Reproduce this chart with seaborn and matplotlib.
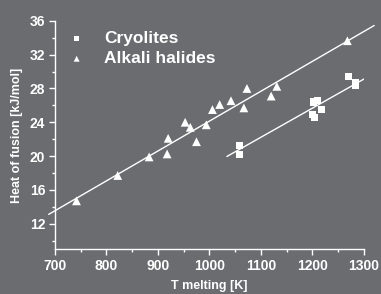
import matplotlib
matplotlib.use("Agg")
import matplotlib.pyplot as plt
import seaborn as sns
import pandas as pd

# ---- data ----
cryo_T = [1058, 1058, 1200, 1202, 1204, 1210, 1218, 1271, 1283, 1283]
cryo_H = [21.2, 20.2, 24.9, 26.4, 24.6, 26.6, 25.5, 29.45, 28.7, 28.3]

alk_T = [742, 822, 883, 918, 920, 953, 963, 975, 994, 1006, 1020, 1042, 1067, 1073, 1120, 1131, 1268]
alk_H = [14.7, 17.7, 19.9, 20.25, 22.1, 24.0, 23.4, 21.7, 23.7, 25.5, 26.1, 26.55, 25.7, 28.0, 27.1, 28.25, 33.65]

alk_fit_T = [688, 1320]
alk_fit_H = [13.1, 35.45]
cryo_fit_T = [1034, 1307]
cryo_fit_H = [19.95, 29.35]

x_ticks = [700, 800, 900, 1000, 1100, 1200, 1300]
y_ticks = [12, 16, 20, 24, 28, 32, 36]

bg = "#6b6c70"
fg = "white"

sns.set_theme(style="ticks")
plt.rcParams["font.family"] = ["Liberation Sans", "DejaVu Sans"]

fig = plt.figure(figsize=(3.81, 2.94), dpi=100, facecolor=bg)
ax = fig.add_axes([0.144, 0.153, 0.811, 0.776])
ax.set_facecolor(bg)

df_c = pd.DataFrame({"T": cryo_T, "H": cryo_H})
df_a = pd.DataFrame({"T": alk_T, "H": alk_H})

sns.lineplot(x=alk_fit_T, y=alk_fit_H, ax=ax, color=fg, lw=1.0, clip_on=False)
sns.lineplot(x=cryo_fit_T, y=cryo_fit_H, ax=ax, color=fg, lw=1.0)
sns.scatterplot(data=df_c, x="T", y="H", ax=ax, marker="s", s=26, color=fg,
                edgecolor="none", zorder=3)
sns.scatterplot(data=df_a, x="T", y="H", ax=ax, marker="^", s=40, color=fg,
                edgecolor="none", zorder=3)

ax.set_xlim(700, 1300)
ax.set_ylim(9, 36)
ax.set_xticks(x_ticks)
ax.set_yticks(y_ticks)
ax.set_xticks([750, 850, 950, 1050, 1150, 1250], minor=True)
ax.set_yticks([10, 14, 18, 22, 26, 30, 34], minor=True)

for s in ["top", "right"]:
    ax.spines[s].set_visible(False)
for s in ["left", "bottom"]:
    ax.spines[s].set_color(fg)
    ax.spines[s].set_linewidth(1.0)

ax.tick_params(which="major", direction="out", length=4, width=1, colors=fg,
               labelsize=10, pad=3)
ax.tick_params(which="minor", direction="out", length=2.5, width=1, colors=fg)
for lab in ax.get_xticklabels() + ax.get_yticklabels():
    lab.set_fontweight("bold")
    lab.set_color(fg)

ax.set_xlabel("T melting [K]", color=fg, fontsize=9, fontweight="bold", labelpad=5)
ax.set_ylabel("Heat of fusion [kJ/mol]", color=fg, fontsize=9, fontweight="bold",
              labelpad=5)

# legend
h_sq = ax.scatter([], [], marker="s", s=14, color=fg, edgecolor="none")
h_tr = ax.scatter([], [], marker="^", s=18, color=fg, edgecolor="none")
leg = ax.legend([h_sq, h_tr], ["Cryolites", "Alkali halides"], loc="upper left",
                bbox_to_anchor=(0.02, 0.987), frameon=False,
                prop={"weight": "bold", "size": 12.5},
                labelspacing=0.3, handletextpad=1.1, handlelength=1.0,
                borderaxespad=0)
for t in leg.get_texts():
    t.set_color(fg)

fig.savefig("out.png", dpi=100, facecolor=bg)
